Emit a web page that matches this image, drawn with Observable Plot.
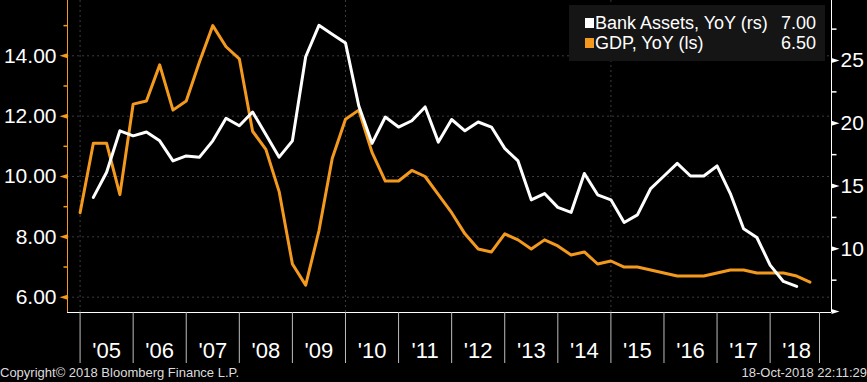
<!DOCTYPE html>
<html><head><meta charset="utf-8">
<script src="https://cdn.jsdelivr.net/npm/d3@7"></script>
<script src="https://cdn.jsdelivr.net/npm/@observablehq/plot@0.6"></script>
<style>
html,body{margin:0;padding:0;background:#000;}
#wrap{position:relative;width:867px;height:382px;background:#000;font-family:"Liberation Sans",Arial,sans-serif;overflow:hidden}
#chart svg{display:block}
#legend{position:absolute;left:569px;top:5px;width:256px;height:56px;background:#151515;box-sizing:border-box;padding:8px 9px 0 16px;color:#fff;font-size:18px;}
.row{display:flex;align-items:center;height:20px;line-height:20px;white-space:nowrap}
.sw{width:9px;height:10px;margin-right:1px;flex:none}
.lab{flex:1}
.val{text-align:right}
#footer{height:18px;line-height:18px;display:flex;justify-content:space-between;font-size:13px;color:#dcdcdc}
</style></head><body>
<div id="wrap"><div id="chart"></div><div id="footer"><span>Copyright© 2018 Bloomberg Finance L.P.</span><span>18-Oct-2018 22:11:29</span></div><div id="legend"></div></div>
<script>
// China GDP YoY (%), quarterly, Q4 2004 .. Q3 2018 (left scale)
const gdpStart = 2005.0; // quarter-end of Q4 2004
const gdpYoY = [8.8,
  11.1, 11.1, 9.4, 12.4,
  12.5, 13.7, 12.2, 12.5,
  13.8, 15.0, 14.3, 13.9,
  11.5, 10.9, 9.5, 7.1,
  6.4, 8.2, 10.6, 11.9,
  12.2, 10.8, 9.85, 9.85,
  10.2, 10.0, 9.4, 8.8,
  8.1, 7.6, 7.5, 8.1,
  7.9, 7.6, 7.9, 7.7,
  7.4, 7.5, 7.1, 7.2,
  7.0, 7.0, 6.9, 6.8,
  6.7, 6.7, 6.7, 6.8,
  6.9, 6.9, 6.8, 6.8,
  6.8, 6.7, 6.5];
// Bank Assets YoY (%), quarterly, Q1 2005 .. Q2 2018 (right scale)
const bankStart = 2005.25;
const bankAssetsYoY = [
  14.1, 16.1, 19.4, 19.0,
  19.3, 18.6, 17.0, 17.4,
  17.3, 18.6, 20.4, 19.8,
  20.9, 19.1, 17.3, 18.6,
  25.3, 27.8, 27.1, 26.4,
  21.4, 18.4, 20.5, 19.7,
  20.2, 21.3, 18.5, 20.3,
  19.4, 20.1, 19.7, 18.0,
  17.0, 13.9, 14.4, 13.3,
  12.9, 16.0, 14.3, 13.9,
  12.1, 12.7, 14.8, 15.8,
  16.8, 15.8, 15.8, 16.6,
  14.4, 11.6, 10.9, 8.7,
  7.4, 7.0];

const years = [2005,2006,2007,2008,2009,2010,2011,2012,2013,2014,2015,2016,2017,2018];
const yearLabels = ["'05","'06","'07","'08","'09","'10","'11","'12","'13","'14","'15","'16","'17","'18"];
const yearTicks = [...years, 2018.93];
const gridYears = [2005, 2010, 2015];
const leftMajor = [6, 8, 10, 12, 14];
const leftMinor = [7, 9, 11, 13, 15];
const rightMajor = [5, 10, 15, 20, 25];
const rightMinor = [7.5, 12.5, 17.5, 22.5, 27.5];
const legendItems = [
  {label: "Bank Assets, YoY (rs)", value: "7.00", color: "#ffffff"},
  {label: "GDP, YoY (ls)", value: "6.50", color: "#f39a1e"}
];

const orange = "#f39a1e";
const xDomain = [2004.763, 2019.156];
const leftDomain = [5.493, 15.833];
const rightDomain = [4.925, 29.78];
const toLeft = r => leftDomain[0] + (r - rightDomain[0]) * (leftDomain[1] - leftDomain[0]) / (rightDomain[1] - rightDomain[0]);
const fromLeft = l => rightDomain[0] + (l - leftDomain[0]) * (rightDomain[1] - rightDomain[0]) / (leftDomain[1] - leftDomain[0]);

const gdpData = gdpYoY.map((v, i) => ({t: gdpStart + 0.25 * i, v}));
const bankData = bankAssetsYoY.map((v, i) => ({t: bankStart + 0.25 * i, v}));

const triLeft = {draw(ctx){ ctx.moveTo(-8,0); ctx.lineTo(0,-2.5); ctx.lineTo(0,2.5); ctx.closePath(); }};
const triRight = {draw(ctx){ ctx.moveTo(8,0); ctx.lineTo(0,-2.5); ctx.lineTo(0,2.5); ctx.closePath(); }};
const minLeft = {draw(ctx){ ctx.moveTo(-4,0); ctx.lineTo(0,0); }};
const minRight = {draw(ctx){ ctx.moveTo(0,0); ctx.lineTo(5,0); }};

const chart = Plot.plot({
  width: 867, height: 364,
  marginLeft: 67, marginRight: 36, marginTop: 0, marginBottom: 52,
  style: {background: "#000", color: "#fff", fontFamily: "Liberation Sans, Arial, sans-serif", overflow: "visible"},
  x: {domain: xDomain, axis: null},
  y: {domain: leftDomain, axis: null},
  marks: [
    Plot.ruleY(leftMajor, {stroke: "#3c3c3c", strokeDasharray: "2,3"}),
    Plot.ruleX(gridYears, {stroke: "#3c3c3c", strokeDasharray: "2,3"}),
    Plot.line(gdpData, {x: "t", y: "v", stroke: orange, strokeWidth: 3}),
    Plot.line(bankData, {x: "t", y: d => toLeft(d.v), stroke: "#fff", strokeWidth: 3}),
    Plot.ruleX([xDomain[0]], {stroke: orange}),
    Plot.ruleX([xDomain[1]], {stroke: "#fff"}),
    Plot.ruleY([leftDomain[0]], {stroke: "#fff"}),
    // left axis
    Plot.dot(leftMajor, {y: d => d, frameAnchor: "left", symbol: triLeft, fill: orange, stroke: "none"}),
    Plot.dot(leftMinor, {y: d => d, frameAnchor: "left", symbol: minLeft, fill: "none", stroke: orange}),
    Plot.axisY(leftMajor, {anchor: "left", label: null, tickSize: 0, tickPadding: 11, tickFormat: d => d.toFixed(2), fontSize: 21, fill: "#fff"}),
    // right axis
    Plot.dot(rightMajor.map(toLeft), {y: d => d, frameAnchor: "right", symbol: triRight, fill: "#fff", stroke: "none"}),
    Plot.dot(rightMinor.map(toLeft), {y: d => d, frameAnchor: "right", symbol: minRight, fill: "none", stroke: "#fff"}),
    Plot.axisY(rightMajor.filter(d => d > 5).map(toLeft), {anchor: "right", label: null, tickSize: 0, tickPadding: 9, tickFormat: d => String(Math.round(fromLeft(d))), fontSize: 21, fill: "#fff"}),
    // bottom axis
    Plot.axisX(yearTicks, {anchor: "bottom", label: null, tickSize: 51, tickFormat: () => "", stroke: "#bdbdbd"}),
    Plot.axisX(years.map(y => y + 0.5), {anchor: "bottom", label: null, tickSize: 0, tickPadding: 30, tickFormat: d => yearLabels[years.indexOf(Math.round(d - 0.5))], fontSize: 22, fill: "#fff"})
  ]
});
document.getElementById("chart").appendChild(chart);

const legend = document.getElementById("legend");
for (const it of legendItems) {
  const row = document.createElement("div");
  row.className = "row";
  row.innerHTML = `<span class="sw" style="background:${it.color}"></span><span class="lab">${it.label}</span><span class="val">${it.value}</span>`;
  legend.appendChild(row);
}
</script>
</body></html>
